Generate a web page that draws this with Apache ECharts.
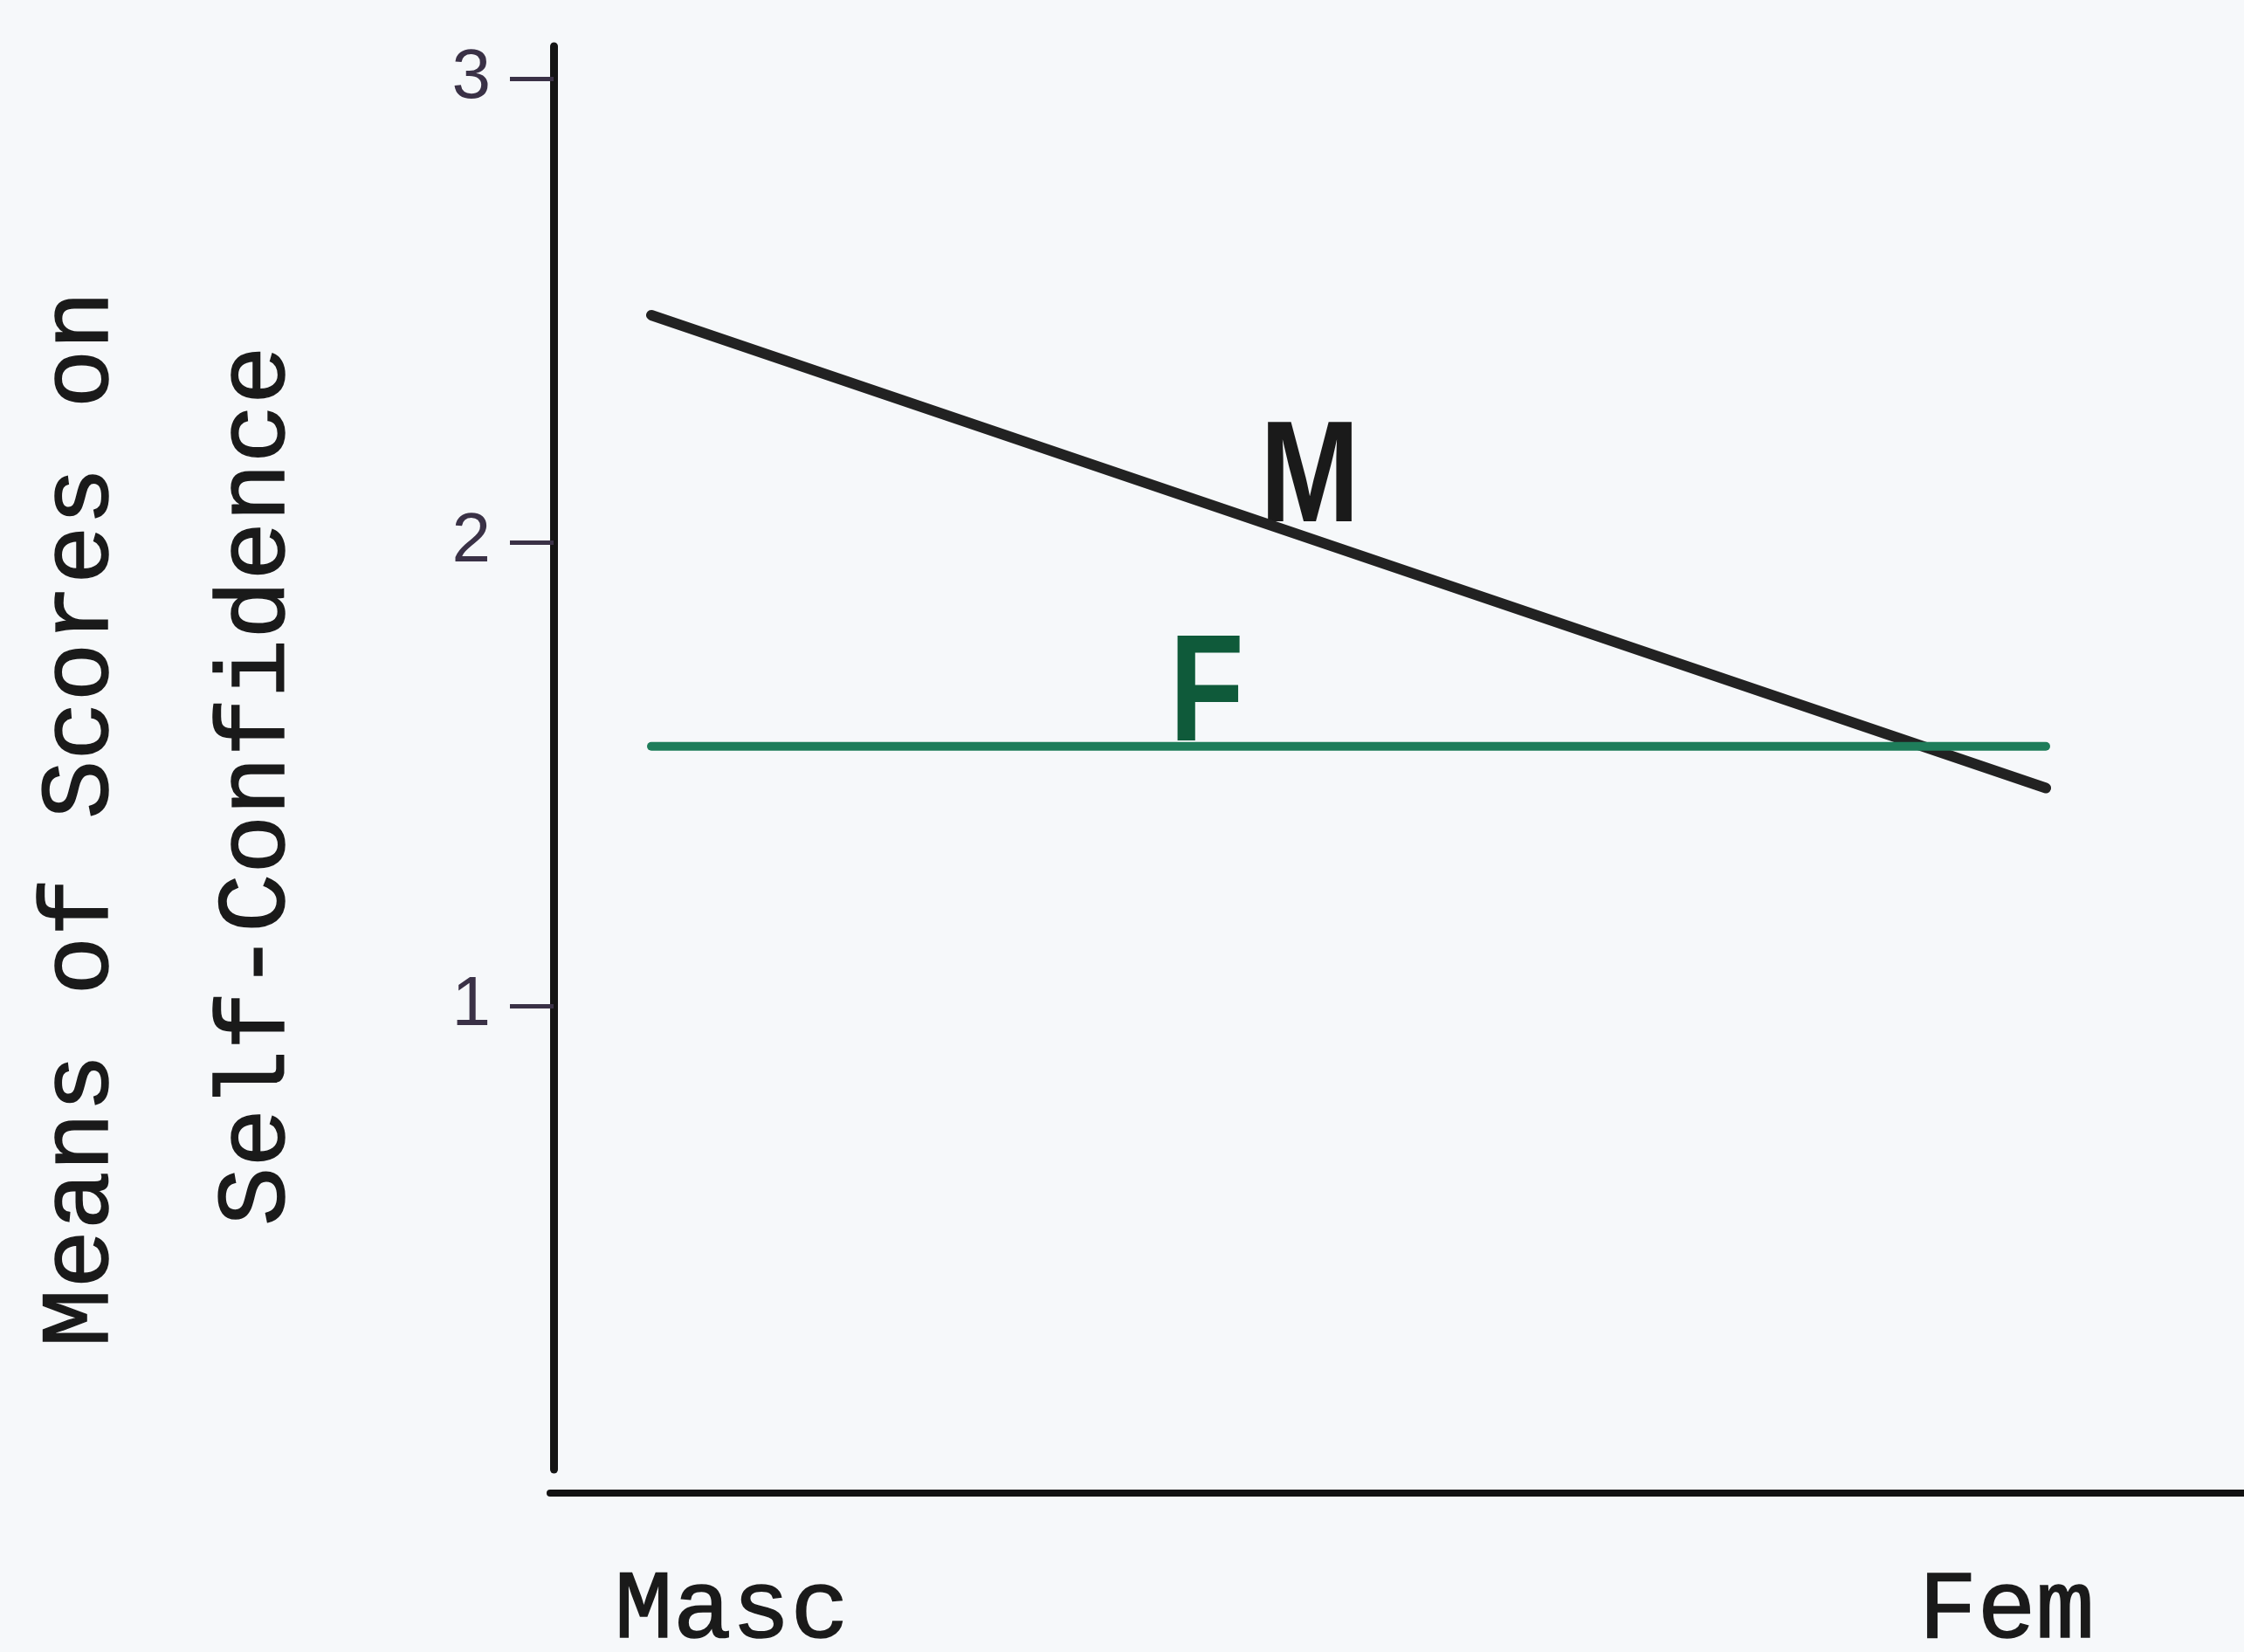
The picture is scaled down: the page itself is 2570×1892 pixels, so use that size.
<!DOCTYPE html>
<html><head><meta charset="utf-8">
<script src="https://cdn.jsdelivr.net/npm/echarts@6/dist/echarts.min.js"></script>
<style>html,body{margin:0;padding:0;background:#f6f8fa}#c{width:2570px;height:1892px}</style>
</head><body><div id="c"></div>
<script>
const categories = ['Masc', 'Fem'];
const maleMeans = [2.49, 1.47];
const femaleMeans = [1.56, 1.56];
const yTickValues = [1, 2, 3];
const seriesNames = ['M', 'F'];
const yAxisTitle = ['Means of Scores on', 'Self-Confidence'];

const chart = echarts.init(document.getElementById('c'));
const mono = "'Liberation Mono', 'DejaVu Sans Mono', monospace";
const typeStyle = {fontFamily: mono, fontWeight: 'normal', fontSize: 112, lineHeight: 112, color: '#1a1a1a', textBorderColor: '#1a1a1a', textBorderWidth: 1.5};
chart.setOption({
  backgroundColor: '#f6f8fa',
  animation: false,
  grid: [
    {left: 746, right: 227, top: 53, bottom: 209, outerBoundsMode: 'none', containLabel: false},
    {left: 630, right: 0, top: 1700, bottom: 182, outerBoundsMode: 'none', containLabel: false}
  ],
  xAxis: [
    {
      gridIndex: 0, type: 'category', data: categories, boundaryGap: false,
      axisLine: {show: false}, axisTick: {show: false}, splitLine: {show: false},
      axisLabel: {
        margin: 106,
        formatter: (v, i) => (i === 0 ? '{a|' + v + '}' : '{b|' + v + '}'),
        rich: {
          a: Object.assign({}, typeStyle, {padding: [0, 0, 0, 184]}),
          b: Object.assign({}, typeStyle, {padding: [0, 90, 0, 0]})
        }
      }
    },
    {
      gridIndex: 1, type: 'value', min: 0, max: 1,
      axisLine: {show: true, onZero: false, lineStyle: {color: '#121212', width: 8}},
      axisTick: {show: false}, axisLabel: {show: false}, splitLine: {show: false}
    }
  ],
  yAxis: [
    {
      gridIndex: 0, type: 'value', min: 0, max: 3.07, interval: 1, offset: 112,
      axisLine: {show: true, onZero: false, lineStyle: {color: '#141414', width: 9}},
      axisTick: {show: true, length: 50, customValues: yTickValues, lineStyle: {color: '#3a3146', width: 5}},
      axisLabel: {customValues: yTickValues, margin: 72, fontSize: 80, fontFamily: "'Liberation Sans', sans-serif", color: '#3a3146'},
      splitLine: {show: false},
      name: '{a|' + yAxisTitle[0] + '}\n{b|' + yAxisTitle[1] + '}',
      nameLocation: 'middle', nameRotate: 90, nameGap: 238,
      nameTextStyle: {
        rich: {
          a: Object.assign({}, typeStyle, {lineHeight: 202, padding: [0, 140, 0, 0]}),
          b: Object.assign({}, typeStyle, {lineHeight: 202, padding: [0, 64, 0, 0]})
        }
      }
    },
    {gridIndex: 1, type: 'value', show: false, min: 0, max: 1}
  ],
  series: [
    {
      name: seriesNames[0], type: 'line', xAxisIndex: 0, yAxisIndex: 0, data: maleMeans,
      symbol: 'none', lineStyle: {color: '#222222', width: 12, cap: 'round'}
    },
    {
      name: seriesNames[1], type: 'line', xAxisIndex: 0, yAxisIndex: 0, data: femaleMeans,
      symbol: 'none', lineStyle: {color: '#1e7d5a', width: 10, cap: 'round'}
    }
  ],
  graphic: [
    {type: 'text', x: 1500, y: 551, scaleX: 0.83, style: {text: seriesNames[0], font: "bold 165px 'Liberation Sans', sans-serif", fill: '#1a1a1a', textAlign: 'center', textVerticalAlign: 'middle'}},
    {type: 'text', x: 1382, y: 800, scaleX: 0.8, style: {text: seriesNames[1], font: "bold 175px 'Liberation Sans', sans-serif", fill: '#0f5a3a', textAlign: 'center', textVerticalAlign: 'middle'}}
  ]
});
</script>
</body></html>
